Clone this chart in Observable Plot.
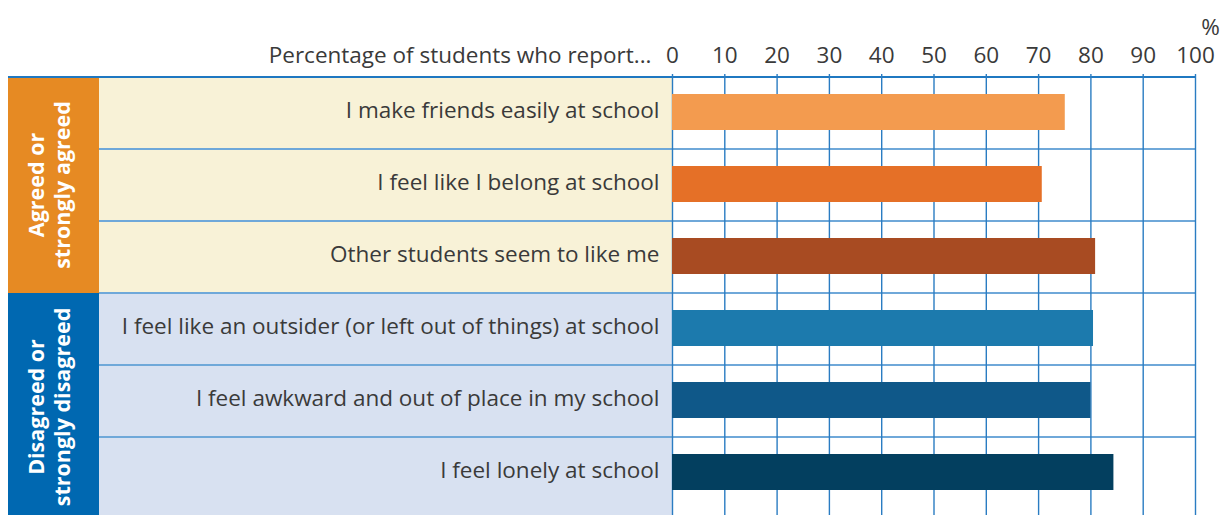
<!DOCTYPE html>
<html><head><meta charset="utf-8">
<script src="https://cdn.jsdelivr.net/npm/d3@7"></script>
<script src="https://cdn.jsdelivr.net/npm/@observablehq/plot@0.6"></script>
<style>body{margin:0;background:#fff}</style>
</head><body><div id="chart"></div>
<script>
const categories = [
  "I make friends easily at school",
  "I feel like I belong at school",
  "Other students seem to like me",
  "I feel like an outsider (or left out of things) at school",
  "I feel awkward and out of place in my school",
  "I feel lonely at school"
];
const values = [75.1, 70.7, 80.9, 80.5, 80.0, 84.4];
const groupOf = ["agree", "agree", "agree", "disagree", "disagree", "disagree"];
const groups = ["agree", "disagree"];
const groupLabels = {agree: ["Agreed or", "strongly agreed"], disagree: ["Disagreed or", "strongly disagreed"]};
const barColors = ["#F39B4F", "#E57027", "#A84B22", "#1C7AAD", "#0F5889", "#033F5F"];
const groupColors = {agree: "#E68A23", disagree: "#0068B1"};
const rowBgColors = {agree: "#F8F2D7", disagree: "#D8E1F1"};
const xTicks = [0, 10, 20, 30, 40, 50, 60, 70, 80, 90, 100];
const axisTitle = "Percentage of students who report...";
const unitLabel = "%";

const rows = categories.map((c, i) => ({label: c, value: values[i], color: barColors[i], group: groupOf[i]}));

const W = 1231, H = 515;
const colLeft = 8, colRight = 99;
const sepColor = "#6FA8D9";
const FS = 22.5;

function leftPanel(index, scales, vals, dims) {
  const {x, y} = scales;
  const g = d3.create("svg:g");
  const x0 = x(0), x100 = x(100);
  const bw = y(categories[1]) - y(categories[0]);
  const rowBottom = (i) => i === rows.length - 1 ? dims.height : y(rows[i].label) + bw;
  rows.forEach((r, i) => {
    const top = y(r.label);
    g.append("rect").attr("x", colRight).attr("y", top)
      .attr("width", x0 - colRight).attr("height", rowBottom(i) - top)
      .attr("fill", rowBgColors[r.group]);
  });
  for (const grp of groups) {
    const idx = rows.map((r, i) => i).filter(i => rows[i].group === grp);
    const top = y(rows[idx[0]].label);
    const last = idx[idx.length - 1];
    const bottom = rowBottom(last);
    const realBottom = y(rows[last].label) + bw;
    g.append("rect").attr("x", colLeft).attr("y", top)
      .attr("width", colRight - colLeft).attr("height", bottom - top)
      .attr("fill", groupColors[grp]);
    const cx = (colLeft + colRight) / 2 + 3;
    const cy = (top + realBottom) / 2 + (grp === "disagree" ? 6 : 0);
    const t = g.append("text")
      .attr("transform", `translate(${cx},${cy}) rotate(-90)`)
      .attr("text-anchor", "middle")
      .attr("fill", "#fff")
      .attr("font-weight", "bold")
      .attr("font-size", 21.5)
      .attr("font-family", "'Open Sans', sans-serif");
    groupLabels[grp].forEach((line, k) => {
      t.append("tspan").attr("x", 0).attr("y", k === 0 ? -13 : 13).text(line);
    });
  }
  rows.forEach((r, i) => {
    const yy = y(r.label);
    g.append("line")
      .attr("x1", i === 0 ? colLeft : colRight).attr("x2", x100)
      .attr("y1", yy).attr("y2", yy)
      .attr("stroke", i === 0 ? "#1F78C1" : sepColor)
      .attr("stroke-width", 2);
  });
  return g.node();
}

const chart = Plot.plot({
  width: W,
  height: H,
  marginLeft: 672,
  marginRight: 36,
  marginTop: 74,
  marginBottom: 0,
  style: {fontFamily: "'Open Sans', sans-serif", fontSize: FS + "px", color: "#3a3a3a", background: "#fff"},
  x: {domain: [0, 100], axis: null},
  y: {domain: categories, range: [74, 511.5], padding: 0, axis: null},
  color: {type: "identity"},
  marks: [
    leftPanel,
    Plot.ruleX(xTicks, {x: d => d, stroke: "#2A7CC2", strokeWidth: 1.4}),
    Plot.barX(rows, {x: "value", y: "label", fill: "color", insetTop: 17, insetBottom: 19}),
    Plot.axisX({anchor: "top", ticks: xTicks, tickSize: 0, tickPadding: 12, fontSize: FS, label: null}),
    Plot.axisY({anchor: "left", tickSize: 0, tickPadding: 13, dy: -3, fontSize: FS, label: null}),
    Plot.text([axisTitle], {frameAnchor: "top-left", textAnchor: "end", lineAnchor: "bottom", dx: -21, dy: -12, fontSize: FS}),
    Plot.text([unitLabel], {frameAnchor: "top-right", textAnchor: "middle", lineAnchor: "bottom", dx: 15, dy: -40, fontSize: FS})
  ]
});
document.getElementById("chart").appendChild(chart);
</script>
</body></html>
